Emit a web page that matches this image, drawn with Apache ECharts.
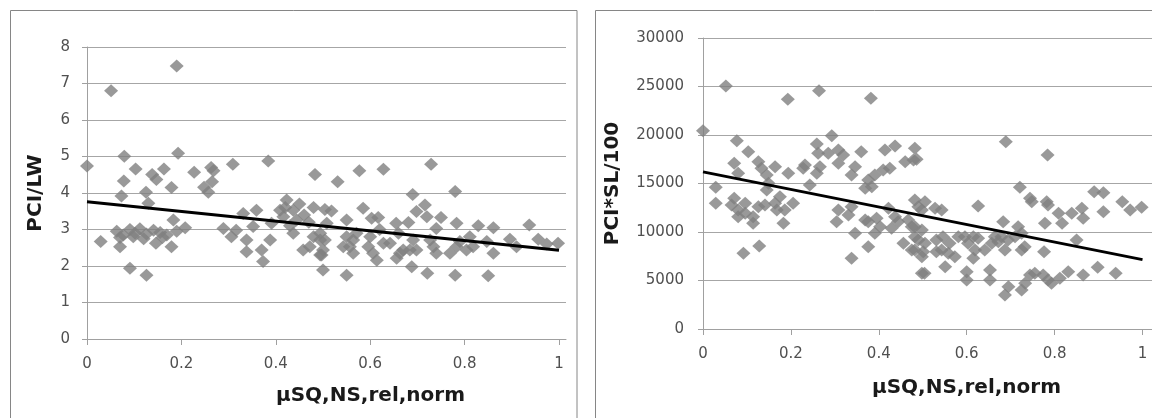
<!DOCTYPE html>
<html>
<head>
<meta charset="utf-8">
<script src="https://cdn.jsdelivr.net/npm/echarts@6/dist/echarts.min.js"></script>
<style>
  html, body { margin: 0; padding: 0; background: #fff; }
  #chart { width: 1152px; height: 418px; }
</style>
</head>
<body>
<div id="chart"></div>
<script>
const xTicks = [0, 0.2, 0.4, 0.6, 0.8, 1]
const xName = 'µSQ,NS,rel,norm'

// PCI/LW vs µSQ,NS,rel,norm
const pciLw = [
  [0, 4.74], [0.079, 5.01], [0.193, 5.09], [0.384, 4.88], [0.309, 4.79], [0.483, 4.51], [0.103, 4.66],
  [0.163, 4.66], [0.138, 4.51], [0.147, 4.37], [0.078, 4.33], [0.227, 4.57], [0.263, 4.7], [0.268, 4.61],
  [0.248, 4.16], [0.257, 4.02], [0.265, 4.31], [0.179, 4.15], [0.073, 3.92], [0.125, 4.02], [0.13, 3.72],
  [0.423, 3.81], [0.504, 3.55], [0.183, 3.26], [0.029, 2.67],
  [0.063, 2.95], [0.077, 2.85], [0.091, 3.0], [0.102, 2.9], [0.112, 3.02], [0.126, 2.88], [0.141, 2.98],
  [0.155, 2.92], [0.169, 2.85], [0.19, 2.95], [0.208, 3.05], [0.07, 2.78], [0.098, 2.8], [0.12, 2.75],
  [0.16, 2.78], [0.07, 2.53], [0.146, 2.62], [0.179, 2.53], [0.091, 1.94], [0.126, 1.75],
  [0.289, 3.03], [0.306, 2.8], [0.316, 2.98], [0.331, 3.44], [0.338, 2.71], [0.338, 2.39], [0.352, 3.08],
  [0.359, 3.53], [0.37, 2.44], [0.373, 2.12], [0.388, 2.71], [0.391, 3.17],
  [0.409, 3.53], [0.416, 3.35], [0.437, 3.53], [0.444, 3.26], [0.437, 2.9], [0.458, 2.44], [0.472, 2.53],
  [0.48, 2.8], [0.494, 2.71], [0.497, 2.3], [0.5, 1.89], [0.508, 3.17], [0.42, 3.6], [0.45, 3.7],
  [0.43, 3.1], [0.46, 3.4], [0.47, 3.2], [0.48, 3.6],
  [0.531, 4.31], [0.577, 4.61], [0.628, 4.65], [0.729, 4.79], [0.69, 3.96], [0.78, 4.04], [0.518, 3.51],
  [0.585, 3.58], [0.603, 3.31], [0.617, 3.33], [0.55, 3.26], [0.698, 3.49], [0.716, 3.67], [0.72, 3.35],
  [0.655, 3.17], [0.681, 3.19], [0.75, 3.33], [0.783, 3.17], [0.74, 3.03], [0.829, 3.1], [0.861, 3.05],
  [0.937, 3.12], [0.956, 2.73], [0.974, 2.6], [0.998, 2.62], [0.896, 2.73], [0.91, 2.53], [0.811, 2.8],
  [0.818, 2.53], [0.861, 2.35], [0.847, 2.67], [0.79, 2.67], [0.804, 2.44], [0.769, 2.35], [0.783, 2.53],
  [0.727, 2.71], [0.74, 2.35], [0.734, 2.53], [0.691, 2.71], [0.684, 2.44], [0.698, 2.44], [0.628, 2.62],
  [0.642, 2.62], [0.656, 2.21], [0.663, 2.35], [0.67, 2.44], [0.596, 2.53], [0.606, 2.35], [0.614, 2.16],
  [0.55, 2.8], [0.564, 2.71], [0.543, 2.53], [0.564, 2.35], [0.557, 2.53], [0.571, 2.9], [0.494, 2.9],
  [0.504, 2.71], [0.5, 2.44], [0.494, 2.3], [0.62, 3.0], [0.66, 2.9], [0.6, 2.8],
  [0.55, 1.75], [0.688, 1.98], [0.721, 1.8], [0.78, 1.75], [0.85, 1.73], [0.051, 6.8], [0.19, 7.48]
]
const pciLwTrend = [[0, 3.76], [1, 2.43]]

// PCI*SL/100 vs µSQ,NS,rel,norm
const pciSl = [
  [0, 20443], [0.052, 25051], [0.193, 23680], [0.264, 24567], [0.382, 23783], [0.077, 19412], [0.103, 18278],
  [0.293, 19927], [0.259, 19072], [0.262, 18113], [0.285, 18113], [0.308, 18453], [0.319, 17938], [0.308, 17082],
  [0.36, 18278], [0.346, 16732], [0.338, 15876], [0.414, 18453], [0.437, 18866], [0.482, 18629], [0.46, 17247],
  [0.479, 17422], [0.41, 16391], [0.425, 16567], [0.391, 15876], [0.376, 15360], [0.384, 14670], [0.369, 14500],
  [0.071, 17082], [0.08, 16051], [0.126, 17247], [0.133, 16567], [0.145, 15876], [0.164, 16732], [0.194, 16051],
  [0.228, 16567], [0.232, 16907], [0.266, 16732], [0.259, 16051], [0.243, 14845], [0.029, 14603], [0.029, 12955],
  [0.145, 14329], [0.175, 13638], [0.149, 15017], [0.071, 13469], [0.065, 12783], [0.08, 12268], [0.096, 12955],
  [0.08, 11577], [0.114, 11577], [0.096, 11922], [0.126, 12612], [0.141, 12783], [0.164, 12955], [0.168, 12268],
  [0.186, 12268], [0.205, 12955], [0.183, 10896], [0.114, 10896], [0.092, 7804], [0.128, 8557], [0.308, 12268],
  [0.304, 11062], [0.331, 11752], [0.338, 12612], [0.346, 9866], [0.376, 11062], [0.395, 11412], [0.403, 10546],
  [0.422, 12443], [0.437, 11577], [0.444, 11062], [0.429, 10381], [0.376, 8485], [0.338, 7289], [0.369, 11237],
  [0.391, 9866], [0.482, 13299], [0.49, 12612], [0.467, 11237], [0.475, 10546], [0.482, 9515], [0.456, 8835],
  [0.475, 8144], [0.498, 7453], [0.498, 5742],
  [0.689, 19309], [0.784, 17938], [0.486, 17494], [0.721, 14603], [0.744, 13469], [0.748, 13124], [0.782, 13124],
  [0.785, 12783], [0.89, 14155], [0.911, 14052], [0.954, 13124], [0.972, 12268], [0.998, 12546], [0.911, 12093],
  [0.862, 12443], [0.865, 11412], [0.839, 11927], [0.809, 11927], [0.817, 10896], [0.778, 10896], [0.776, 7969],
  [0.626, 12680], [0.683, 11062], [0.717, 10546], [0.725, 9866], [0.85, 9175], [0.505, 13124], [0.528, 12443],
  [0.543, 12268], [0.498, 12268], [0.482, 10546], [0.498, 10206], [0.49, 9175], [0.501, 7969], [0.505, 8835],
  [0.482, 8144], [0.531, 9175], [0.546, 9515], [0.561, 8835], [0.543, 8144], [0.558, 7804], [0.573, 7453],
  [0.531, 7969], [0.581, 9515], [0.596, 9515], [0.603, 8835], [0.615, 9515], [0.626, 9350], [0.619, 8144],
  [0.615, 7289], [0.641, 8144], [0.657, 8835], [0.664, 9515], [0.679, 9515], [0.694, 9175], [0.71, 9515],
  [0.687, 8144], [0.725, 8144], [0.732, 8485], [0.672, 9005], [0.504, 5742], [0.551, 6430], [0.6, 5907],
  [0.6, 5051], [0.653, 6082], [0.653, 5051], [0.687, 3505], [0.695, 4361], [0.725, 4020], [0.733, 4711],
  [0.744, 5567], [0.755, 5742], [0.774, 5567], [0.785, 5051], [0.793, 4711], [0.812, 5227], [0.831, 5907],
  [0.865, 5567], [0.898, 6361], [0.939, 5742]
]
const pciSlTrend = [[0, 16200], [1, 7150]]

const font = 'DejaVu Sans'
const axisGrey = '#a0a0a0'

function plain(v) {
  return String(v)
}

function xAxisOf(gridIndex, max) {
  return {
    type: 'value',
    gridIndex: gridIndex,
    min: 0,
    max: max,
    axisLine: { show: true, lineStyle: { color: axisGrey } },
    axisTick: { show: true, length: 6, customValues: xTicks, lineStyle: { color: axisGrey } },
    axisLabel: {
      customValues: xTicks,
      margin: 18,
      color: '#505050',
      fontSize: 15,
      fontFamily: font,
      formatter: plain
    },
    splitLine: { show: false }
  }
}

function yAxisOf(gridIndex, max, interval, name, nameGap, labelMargin) {
  return {
    type: 'value',
    gridIndex: gridIndex,
    min: 0,
    max: max,
    interval: interval,
    name: name,
    nameLocation: 'middle',
    nameGap: nameGap,
    nameRotate: 90,
    nameTextStyle: { fontSize: 20, fontWeight: 'bold', color: '#1a1a1a', fontFamily: font },
    axisLine: { show: true, lineStyle: { color: axisGrey } },
    axisTick: { show: true, length: 5, lineStyle: { color: axisGrey } },
    axisLabel: { margin: labelMargin, color: '#505050', fontSize: 15, fontFamily: font, formatter: plain },
    splitLine: { show: true, lineStyle: { color: '#a6a6a6', width: 1 } }
  }
}

function scatterOf(i, data) {
  return {
    type: 'scatter',
    xAxisIndex: i,
    yAxisIndex: i,
    symbol: 'diamond',
    symbolSize: [14, 13],
    itemStyle: { color: '#7f7f7f' },
    data: data
  }
}

function trendOf(i, data) {
  return {
    type: 'line',
    xAxisIndex: i,
    yAxisIndex: i,
    symbol: 'none',
    z: 5,
    lineStyle: { color: '#000', width: 3 },
    data: data
  }
}

const option = {
  animation: false,
  backgroundColor: '#fff',
  title: [
    { text: xName, left: 276, top: 386, padding: 0, textStyle: { fontSize: 20, fontWeight: 'bold', color: '#1a1a1a', fontFamily: font } },
    { text: xName, left: 872, top: 378, padding: 0, textStyle: { fontSize: 20, fontWeight: 'bold', color: '#1a1a1a', fontFamily: font } }
  ],
  graphic: [
    { type: 'rect', shape: { x: 10.5, y: 10.5, width: 566.5, height: 430 }, style: { fill: 'none', stroke: '#868686', lineWidth: 1 } },
    { type: 'rect', shape: { x: 595.5, y: 10.5, width: 600, height: 430 }, style: { fill: 'none', stroke: '#868686', lineWidth: 1 } }
  ],
  grid: [
    { left: 87, top: 47, width: 479, height: 292 },
    { left: 703, top: 38, width: 449, height: 291 }
  ],
  xAxis: [xAxisOf(0, 479 / 472), xAxisOf(1, 449 / 439.5)],
  yAxis: [
    yAxisOf(0, 8, 1, 'PCI/LW', 41, 17),
    yAxisOf(1, 30000, 5000, 'PCI*SL/100', 80, 19)
  ],
  series: [
    scatterOf(0, pciLw),
    trendOf(0, pciLwTrend),
    scatterOf(1, pciSl),
    trendOf(1, pciSlTrend)
  ]
}

const chart = echarts.init(document.getElementById('chart'))
chart.setOption(option)
window.addEventListener('resize', function() { chart.resize() })
</script>
</body>
</html>
